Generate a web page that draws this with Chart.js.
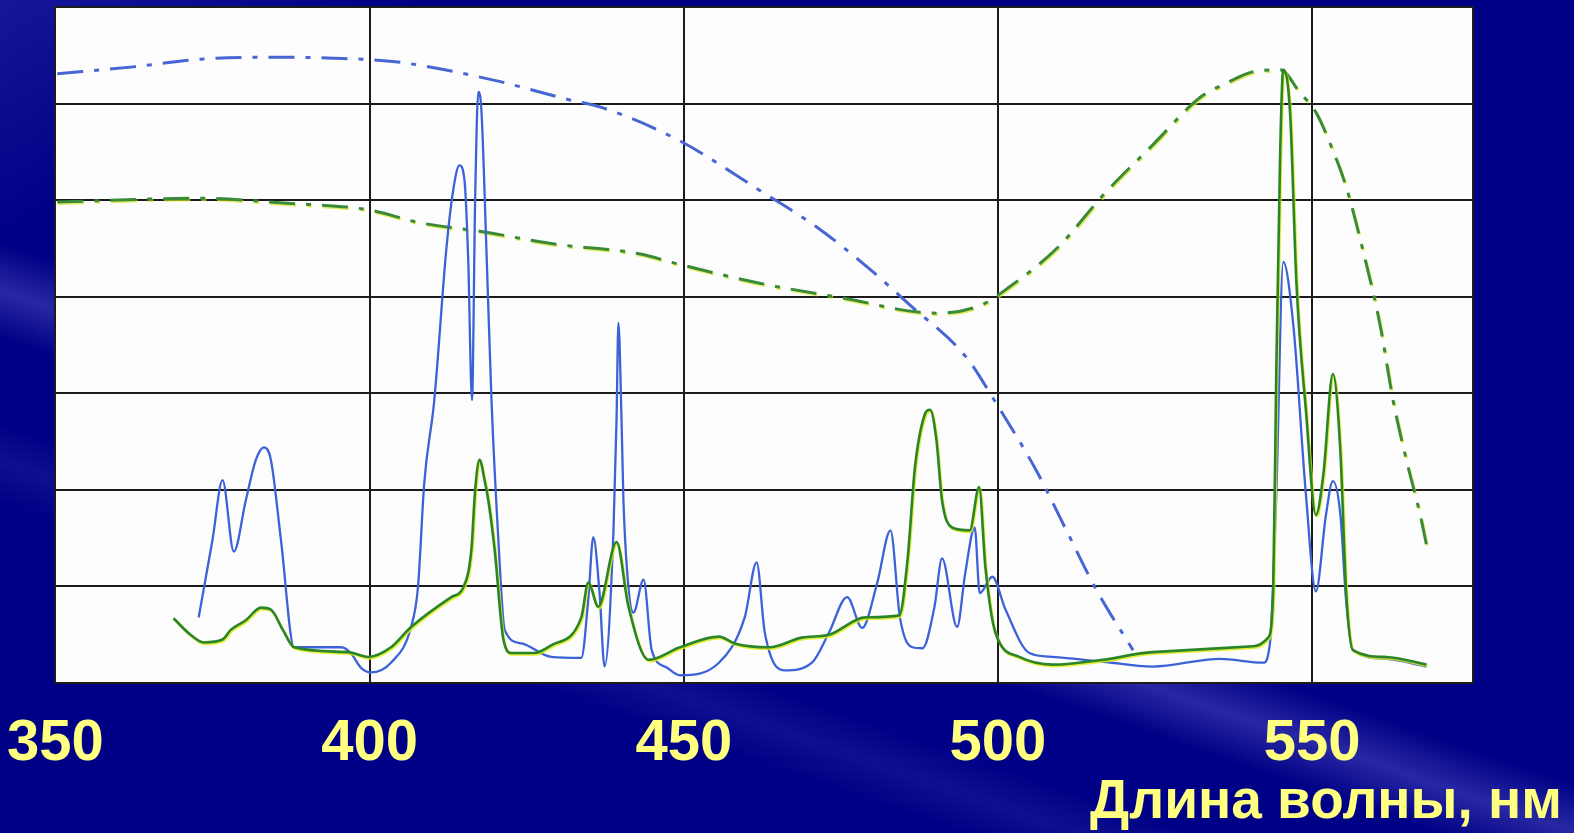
<!DOCTYPE html>
<html lang="ru">
<head>
<meta charset="utf-8">
<title>Спектры</title>
<script src="https://cdn.jsdelivr.net/npm/chart.js@4.4.1/dist/chart.umd.min.js"></script>
<style>
  html, body { margin: 0; padding: 0; }
  body {
    width: 1574px;
    height: 833px;
    overflow: hidden;
    background:
      linear-gradient(19deg, rgba(0,0,0,0) 36%, rgba(95,95,205,0.42) 39.5%, rgba(0,0,0,0) 43%),
      linear-gradient(19deg, rgba(0,0,0,0) 24%, rgba(60,60,180,0.25) 27%, rgba(0,0,0,0) 30%),
      linear-gradient(150deg, rgba(40,40,170,0.55) 0%, rgba(0,0,0,0) 14%),
      #000086;
  }
  canvas { display: block; }
</style>
</head>
<body>
<canvas id="spectrum" width="1574" height="833"></canvas>
<script>
// wavelength ticks shown under the plot
const wavelengthTicks = [350, 400, 450, 500, 550];

// solid blue spectrum
const blueLineNm = [372.8, 375.0, 376.6, 378.4, 380.3, 381.9, 383.2, 384.3, 385.9, 388.0,
  395.5, 397.0, 398.6, 400.2, 403.4, 406.6, 407.7, 408.7, 410.3, 412.2,
  413.3, 414.3, 415.1, 415.7, 416.3, 416.8, 417.3, 417.8, 418.6, 419.4,
  420.5, 421.5, 424.2, 428.9, 433.7, 434.8, 435.6, 436.6, 437.4, 438.8,
  439.3, 439.6, 440.1, 440.4, 441.4, 442.0, 443.6, 444.9, 447.3, 449.4,
  455.6, 459.7, 461.6, 462.9, 466.1, 470.4, 473.1, 476.0, 478.4, 480.8,
  482.9, 484.4, 486.4, 488.0, 489.9, 491.1, 493.5, 494.8, 496.3, 497.1,
  499.1, 501.2, 505.0, 508.7, 516.7, 524.6, 535.3, 542.2, 543.3, 544.3,
  545.4, 547.0, 549.0, 550.6, 552.2, 553.3, 554.5, 555.4, 556.5, 561.8, 568.2];
const blueLineVal = [0.68, 1.48, 2.10, 1.36, 1.89, 2.31, 2.44, 2.31, 1.48, 0.37,
  0.37, 0.31, 0.16, 0.11, 0.21, 0.58, 0.99, 2.07, 2.93, 4.48,
  5.10, 5.36, 5.21, 4.38, 2.93, 5.00, 6.12, 5.93, 4.48, 2.93,
  1.48, 0.55, 0.41, 0.27, 0.26, 0.86, 1.51, 0.93, 0.17, 1.55,
  2.72, 3.73, 2.72, 1.89, 0.86, 0.73, 1.07, 0.34, 0.16, 0.08,
  0.21, 0.68, 1.25, 0.52, 0.13, 0.21, 0.52, 0.89, 0.57, 1.04,
  1.58, 0.68, 0.37, 0.36, 0.79, 1.29, 0.58, 1.14, 1.61, 0.93,
  1.10, 0.76, 0.31, 0.27, 0.22, 0.17, 0.25, 0.21, 0.42, 1.96,
  4.36, 3.71, 1.96, 0.95, 1.74, 2.09, 1.74, 0.86, 0.34, 0.25, 0.17];

// solid green spectrum
const greenLineNm = [368.8, 371.5, 373.6, 376.6, 377.9, 380.3, 382.7, 384.3, 386.2, 388.0,
  396.6, 399.8, 403.4, 406.6, 413.0, 414.9, 416.2, 416.8, 417.5, 418.3,
  418.9, 419.9, 421.3, 422.6, 426.2, 428.9, 433.7, 434.8, 436.4, 439.3,
  441.2, 444.4, 449.4, 455.6, 458.1, 463.6, 468.8, 473.1, 478.9, 484.3,
  485.6, 486.8, 488.3, 489.2, 490.2, 491.1, 492.7, 495.5, 497.0, 498.0,
  499.6, 503.4, 508.7, 516.7, 524.6, 540.6, 543.0, 543.8, 544.3, 544.9,
  545.4, 546.5, 547.5, 549.0, 550.6, 551.8, 553.3, 554.5, 555.4, 556.5,
  561.8, 568.2];
const greenLineVal = [0.67, 0.50, 0.42, 0.45, 0.55, 0.65, 0.78, 0.76, 0.55, 0.37,
  0.32, 0.27, 0.37, 0.58, 0.89, 0.99, 1.38, 2.00, 2.31, 2.10,
  1.89, 1.38, 0.45, 0.31, 0.31, 0.39, 0.68, 1.04, 0.79, 1.46,
  0.79, 0.24, 0.37, 0.48, 0.41, 0.37, 0.47, 0.50, 0.68, 0.70,
  1.27, 2.24, 2.77, 2.83, 2.52, 1.89, 1.61, 1.58, 2.03, 1.20,
  0.52, 0.27, 0.19, 0.24, 0.32, 0.38, 0.47, 0.95, 3.26, 5.45,
  6.35, 5.89, 4.14, 2.83, 1.74, 2.17, 3.20, 2.39, 0.95, 0.34,
  0.27, 0.19];

// dash-dot blue curve
const blueCurveNm = [350.3, 362.4, 373.1, 383.8, 394.3, 404.5, 419.9, 431.7, 436.9, 449.2,
  462.1, 471.2, 479.7, 485.7, 495.0, 499.4, 506.1, 510.9, 515.7, 521.5];
const blueCurveVal = [6.31, 6.38, 6.46, 6.48, 6.47, 6.43, 6.24, 6.04, 5.96, 5.62,
  5.10, 4.72, 4.28, 3.93, 3.37, 2.93, 2.20, 1.58, 0.96, 0.34];

// dash-dot green curve
const greenCurveNm = [350.3, 373.1, 386.4, 399.8, 407.7, 418.3, 428.9, 443.3, 448.4, 462.1,
  475.0, 490.3, 497.2, 501.8, 509.5, 517.0, 524.6, 532.3, 536.3, 540.6,
  544.9, 548.1, 550.6, 552.9, 555.4, 557.7, 560.8, 562.9, 565.0, 567.2, 568.2];
const greenCurveVal = [4.98, 5.02, 4.97, 4.90, 4.77, 4.67, 4.55, 4.44, 4.35, 4.14,
  3.99, 3.83, 3.91, 4.10, 4.51, 5.07, 5.57, 6.07, 6.21, 6.33,
  6.35, 6.11, 5.91, 5.58, 5.14, 4.58, 3.71, 2.92, 2.31, 1.74, 1.43];

function toPoints(xs, ys) {
  return xs.map((x, i) => ({ x: x, y: ys[i] }));
}

const yellow = '#ffff80';
const gridColor = '#1c1c1c';
const dashDot = [26, 11, 5, 11];

// white plot background and yellow edge under the green traces
const paperPlugin = {
  id: 'paper',
  beforeDraw(chart) {
    const a = chart.chartArea;
    const ctx = chart.ctx;
    ctx.save();
    ctx.fillStyle = '#fdfdfd';
    ctx.fillRect(a.left, a.top, a.right - a.left, a.bottom - a.top);
    ctx.restore();
  },
  beforeDatasetDraw(chart, args) {
    const ds = chart.data.datasets[args.index];
    if (ds.glow) {
      chart.ctx.save();
      chart.ctx.shadowColor = ds.glow;
      chart.ctx.shadowOffsetX = 1;
      chart.ctx.shadowOffsetY = 1.5;
      chart.ctx.shadowBlur = 0;
    }
  },
  afterDatasetDraw(chart, args) {
    if (chart.data.datasets[args.index].glow) chart.ctx.restore();
  }
};

new Chart(document.getElementById('spectrum'), {
  type: 'line',
  data: {
    datasets: [
      {
        label: 'green',
        data: toPoints(greenLineNm, greenLineVal),
        borderColor: '#2a852a',
        borderWidth: 2.6,
        glow: 'rgba(225,235,20,0.85)',
        pointRadius: 0,
        cubicInterpolationMode: 'monotone'
      },
      {
        label: 'blue',
        data: toPoints(blueLineNm, blueLineVal),
        borderColor: '#3c62d8',
        borderWidth: 2.3,
        pointRadius: 0,
        cubicInterpolationMode: 'monotone'
      },
      {
        label: 'green curve',
        data: toPoints(greenCurveNm, greenCurveVal),
        borderColor: '#3a8a3a',
        borderWidth: 3,
        borderDash: dashDot,
        glow: 'rgba(215,230,30,0.7)',
        pointRadius: 0,
        cubicInterpolationMode: 'monotone'
      },
      {
        label: 'blue curve',
        data: toPoints(blueCurveNm, blueCurveVal),
        borderColor: '#4766d2',
        borderWidth: 3,
        borderDash: dashDot,
        pointRadius: 0,
        cubicInterpolationMode: 'monotone'
      }
    ]
  },
  options: {
    responsive: false,
    animation: false,
    layout: { padding: { left: 55, right: 12, top: 7, bottom: 0 } },
    plugins: {
      legend: { display: false },
      tooltip: { enabled: false },
      title: {
        display: true,
        text: 'Длина волны, нм',
        position: 'bottom',
        align: 'end',
        color: yellow,
        font: { family: 'Liberation Sans', size: 55, weight: 'bold', lineHeight: '6px' },
        padding: { top: -5, bottom: 27 }
      }
    },
    scales: {
      x: {
        type: 'linear',
        min: 350,
        max: 575.6,
        afterBuildTicks(scale) {
          scale.ticks = wavelengthTicks.map(v => ({ value: v }));
        },
        grid: { color: gridColor, lineWidth: 2, drawTicks: false },
        border: { display: true, color: gridColor, width: 2 },
        ticks: {
          color: yellow,
          padding: 7,
          maxRotation: 0,
          autoSkip: false,
          font: { family: 'Liberation Sans', size: 58, weight: 'bold', lineHeight: '108px' }
        }
      },
      y: {
        min: 0,
        max: 7,
        ticks: { display: false, stepSize: 1 },
        grid: { color: gridColor, lineWidth: 2, drawTicks: false },
        border: { display: true, color: gridColor, width: 2 }
      },
      frame: {
        position: 'right',
        min: 0,
        max: 7,
        ticks: { display: false },
        grid: { display: false, drawTicks: false },
        border: { display: true, color: gridColor, width: 2 },
        afterFit(scale) { scale.width = 89; }
      }
    }
  },
  plugins: [paperPlugin]
});
</script>
</body>
</html>
